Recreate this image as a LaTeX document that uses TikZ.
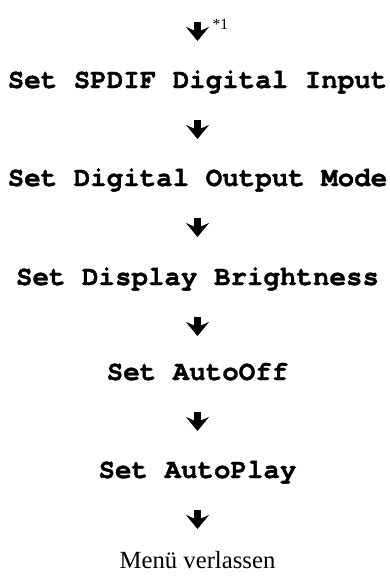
\documentclass[tikz,border=0pt]{standalone}
\usepackage{fontspec}
\setmainfont{Liberation Serif}
\setmonofont{texgyrecursor-regular.otf}[BoldFont=texgyrecursor-bold.otf, Ligatures=NoCommon, BoldFeatures={FakeBold=1.2}]
\usepackage{tikz}
\usetikzlibrary{arrows.meta, positioning}

\begin{document}
\begin{tikzpicture} [x=1pt, y=1pt,
	step item/.style={inner sep=0pt, anchor=base, font=\fontsize{27.5}{30}\selectfont\ttfamily\bfseries},
	exit item/.style={inner sep=0pt, anchor=base, font=\fontsize{24.7}{28}\selectfont},
	note/.style={inner sep=0pt, anchor=base west, font=\fontsize{15.5}{17}\selectfont},
	flowarrow/.style={line width=7.5pt, -{Stealth[length=14pt, width=23pt, inset=5pt]}}]
	\useasboundingbox (0,0) rectangle (389,-581);
	
	\coordinate (entry) at (197.5,-22);
	\node[note] (fn) at ([xshift=15pt, yshift=-7pt]entry) {*1};
	
	\node[step item] (spdif) at (197.5,-88) {Set SPDIF Digital Input};
	\node[step item] (output) at ([yshift=-98pt]spdif.base) {Set Digital Output Mode};
	\node[step item] (bright) at ([yshift=-99pt]output.base) {Set Display Brightness};
	\node[step item] (autooff) at ([yshift=-95pt]bright.base) {Set AutoOff};
	\node[step item] (autoplay) at ([yshift=-98pt]autooff.base) {Set AutoPlay};
	\node[exit item] (leave) at ([yshift=-90pt]autoplay.base) {Menü verlassen};
	
	% arrows between the lines
	\draw[flowarrow] (entry) -- ([yshift=-19pt]entry);
	\foreach \from in {spdif, output, bright, autooff, autoplay}
	\draw[flowarrow] ([yshift=-32pt]\from.base) -- ([yshift=-51pt]\from.base);
	
\end{tikzpicture}
\end{document}
